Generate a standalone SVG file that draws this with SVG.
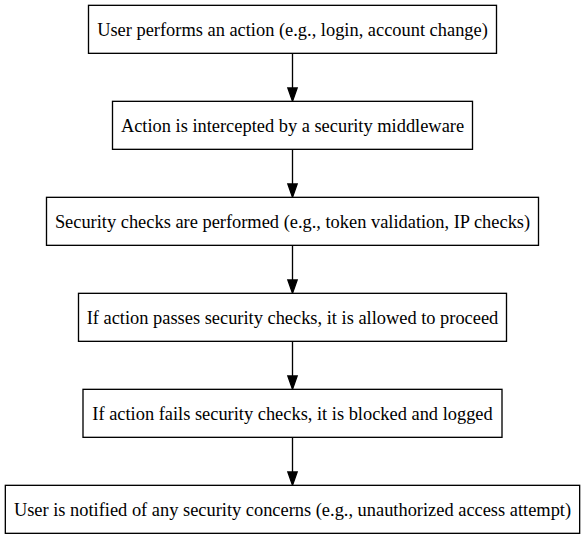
<svg xmlns="http://www.w3.org/2000/svg" width="585" height="539" viewBox="0 0 585 539">
<style>
.n{fill:#fff;stroke:#000;stroke-width:1.33}
.t{font-family:'Liberation Serif','Times New Roman',serif;font-size:18.4px;text-anchor:middle;fill:#000}
.e{stroke:#000;stroke-width:1.33;fill:none}
.h{fill:#000;stroke:#000;stroke-width:1.33}
</style>
<rect width="585" height="539" fill="#fff"/>
<g id="connectors">
<path class="e" d="M292.5,53.33V88"/><polygon class="h" points="287.83,88 297.17,88 292.5,101.33"/>
<path class="e" d="M292.5,149.33V184"/><polygon class="h" points="287.83,184 297.17,184 292.5,197.33"/>
<path class="e" d="M292.5,245.33V280"/><polygon class="h" points="287.83,280 297.17,280 292.5,293.33"/>
<path class="e" d="M292.5,341.33V376"/><polygon class="h" points="287.83,376 297.17,376 292.5,389.33"/>
<path class="e" d="M292.5,437.33V472"/><polygon class="h" points="287.83,472 297.17,472 292.5,485.33"/>
</g>
<g id="n1"><rect class="n" x="88.5" y="5.33" width="408" height="48"/><text class="t" x="292.5" y="35.5">User performs an action (e.g., login, account change)</text></g>
<g id="n2"><rect class="n" x="112.5" y="101.33" width="360" height="48"/><text class="t" x="292.5" y="131.5">Action is intercepted by a security middleware</text></g>
<g id="n3"><rect class="n" x="46.5" y="197.33" width="492" height="48"/><text class="t" x="292.5" y="227.5">Security checks are performed (e.g., token validation, IP checks)</text></g>
<g id="n4"><rect class="n" x="78.5" y="293.33" width="428" height="48"/><text class="t" x="292.5" y="323.5">If action passes security checks, it is allowed to proceed</text></g>
<g id="n5"><rect class="n" x="83" y="389.33" width="419" height="48"/><text class="t" x="292.5" y="419.5">If action fails security checks, it is blocked and logged</text></g>
<g id="n6"><rect class="n" x="5.33" y="485.33" width="574.33" height="48"/><text class="t" x="292.5" y="515.5">User is notified of any security concerns (e.g., unauthorized access attempt)</text></g>
</svg>
